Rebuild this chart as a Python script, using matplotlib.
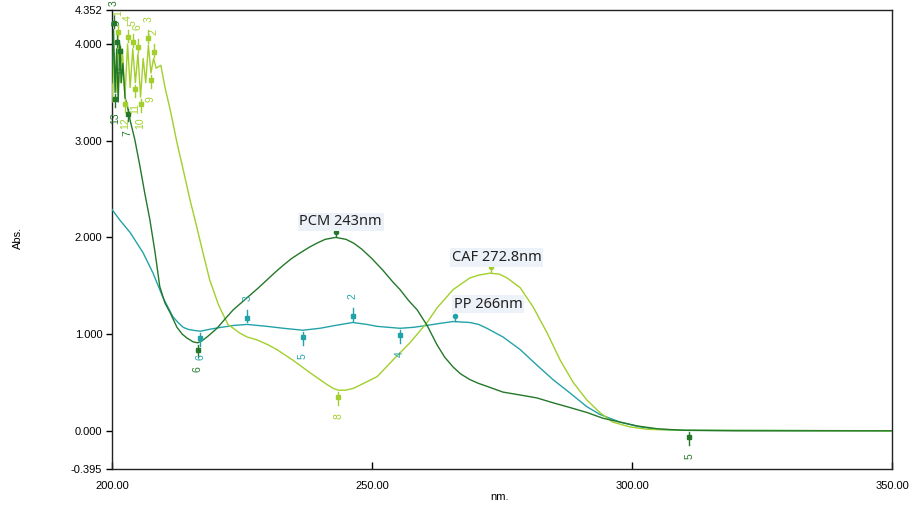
import numpy as np
import matplotlib
matplotlib.use('Agg')
import matplotlib.pyplot as plt

# PCM (dark green)
pcm_nm = [200.0, 200.3, 200.6, 200.9, 201.2, 201.5, 201.8, 202.1, 202.5, 203.0, 203.5, 204.4,
          205.4, 206.3, 207.3, 208.3, 209.2, 210.2, 211.2, 212.5, 213.5, 214.4, 215.6, 216.5,
          217.3, 218.5, 220.2, 221.8, 223.3, 225.0, 226.5, 228.2, 229.8, 231.4, 232.9, 234.5,
          236.2, 238.0, 239.4, 241.0, 243.0, 245.0, 246.5, 248.0, 250.0, 252.1, 254.0, 255.4,
          257.0, 258.7, 260.6, 262.5, 264.0, 265.6, 267.0, 268.8, 270.5, 272.1, 275.2, 278.5,
          281.7, 284.8, 288.1, 291.3, 294.4, 297.7, 301.0, 305.0, 310.0, 320.0, 350.0]
pcm_abs = [3.60, 4.15, 3.50, 3.95, 3.40, 4.00, 3.60, 3.80, 3.45, 3.35, 3.21, 3.01,
           2.73, 2.46, 2.18, 1.84, 1.49, 1.32, 1.22, 1.07, 1.00, 0.96, 0.92, 0.91,
           0.93, 0.98, 1.06, 1.16, 1.25, 1.33, 1.40, 1.48, 1.56, 1.64, 1.71, 1.78,
           1.84, 1.90, 1.94, 1.98, 2.00, 1.98, 1.94, 1.88, 1.78, 1.66, 1.54, 1.46,
           1.35, 1.25, 1.09, 0.89, 0.76, 0.66, 0.59, 0.53, 0.49, 0.46, 0.40, 0.37,
           0.34, 0.29, 0.24, 0.19, 0.13, 0.09, 0.05, 0.02, 0.005, 0.0, 0.0]

# PP (teal)
pp_nm = [200.0, 201.5, 203.5, 206.0, 207.9, 209.8, 211.7, 212.7, 213.7, 214.6, 215.5, 217.0,
         218.8, 221.0, 223.5, 226.0, 229.8, 233.0, 236.7, 240.0, 243.0, 246.3, 249.0, 251.0,
         255.4, 258.0, 260.6, 263.0, 265.6, 268.8, 270.5, 272.1, 275.2, 278.5, 281.7, 284.8,
         288.1, 291.3, 293.8, 297.7, 301.5, 305.0, 310.0, 350.0]
pp_abs = [2.29, 2.18, 2.05, 1.84, 1.63, 1.38, 1.18, 1.12, 1.07, 1.05, 1.04, 1.03,
          1.05, 1.07, 1.09, 1.10, 1.08, 1.06, 1.04, 1.06, 1.09, 1.12, 1.10, 1.08,
          1.06, 1.07, 1.09, 1.11, 1.13, 1.12, 1.10, 1.06, 0.97, 0.84, 0.68, 0.53,
          0.39, 0.25, 0.17, 0.09, 0.04, 0.015, 0.005, 0.0]

# CAF (yellow green)
caf_nm = [200.0, 200.4, 200.8, 201.2, 201.6, 202.0, 202.5, 203.0, 203.5, 204.0, 204.5, 205.0,
          205.5, 206.0, 206.5, 207.0, 207.5, 208.0, 208.5, 209.4, 210.2, 211.2, 212.5, 213.7,
          215.0, 216.3, 217.5, 218.8, 220.5, 222.3, 224.6, 226.0, 227.9, 230.0, 231.7, 234.8,
          238.1, 241.3, 242.5, 243.5, 245.0, 246.5, 248.0, 249.5, 251.0, 254.0, 257.3, 260.6,
          262.5, 265.6, 268.8, 270.5, 272.7, 274.5, 276.0, 278.5, 281.0, 283.7, 286.2, 288.7,
          291.3, 293.8, 296.3, 299.6, 303.0, 310.0, 350.0]
caf_abs = [3.40, 3.90, 3.50, 4.05, 3.60, 3.95, 3.45, 4.00, 3.55, 3.95, 3.60, 3.90,
           3.45, 3.85, 3.60, 3.99, 3.70, 3.85, 3.75, 3.78, 3.55, 3.32, 2.98, 2.70,
           2.39, 2.11, 1.84, 1.56, 1.30, 1.10, 1.01, 0.97, 0.94, 0.89, 0.84, 0.73,
           0.60, 0.48, 0.44, 0.42, 0.42, 0.44, 0.48, 0.52, 0.56, 0.73, 0.91, 1.12,
           1.27, 1.46, 1.58, 1.61, 1.63, 1.62, 1.58, 1.48, 1.28, 1.01, 0.73, 0.50,
           0.32, 0.19, 0.09, 0.04, 0.015, 0.005, 0.0]

# numbered peak/valley picks: (wavelength, label, +1 peak / -1 valley)
pcm_picks = [(200.3, '3', 1), (200.9, '5', 1), (200.6, '13', -1), (201.5, '8', -1),
             (203.0, '7', -1), (216.5, '6', -1), (311.0, '5', -1)]
pp_picks = [(217.0, '6', -1), (226.0, '3', 1), (236.7, '5', -1), (246.3, '2', 1),
            (255.4, '4', -1)]
caf_picks = [(201.2, '1', 1), (203.0, '4', 1), (204.0, '5', 1), (205.0, '6', 1),
             (207.0, '3', 1), (208.0, '2', 1), (202.5, '12', -1), (204.5, '11', -1),
             (205.5, '10', -1), (207.5, '9', -1), (243.5, '8', -1)]

# named peaks: (wavelength, text)
pcm_peak = (243.0, 'PCM 243nm')
caf_peak = (272.8, 'CAF 272.8nm')
pp_peak = (266.0, 'PP 266nm')

c_pcm = '#23782a'
c_pp = '#22a3a8'
c_caf = '#a2cf2c'

fig = plt.figure(figsize=(9.14, 5.07), dpi=100)
ax = fig.add_axes([0.1225, 0.075, 0.8534, 0.9053])

ax.plot(pp_nm, pp_abs, color=c_pp, lw=1.0, zorder=3)
ax.plot(caf_nm, caf_abs, color=c_caf, lw=1.0, zorder=3)
ax.plot(pcm_nm, pcm_abs, color=c_pcm, lw=1.0, zorder=4)


def draw_picks(nm, ab, picks, color):
    for x, lab, d in picks:
        y = np.interp(x, nm, ab)
        ax.plot([x, x], [y + d * 0.02, y + d * 0.15], color=color, lw=1.0, zorder=5)
        ax.plot([x], [y + d * 0.07], marker='s', ms=3, color=color, zorder=5)
        ax.text(x, y + d * 0.27, lab, color=color, fontsize=7.5, rotation=90,
                ha='center', va='center', family='Liberation Sans', zorder=5)


def draw_peak(nm, ab, peak, color, text_x, text_y):
    x, lab = peak
    y = np.interp(x, nm, ab)
    ax.plot([x, x], [y + 0.01, y + 0.06], color=color, lw=1.0, zorder=5)
    ax.plot([x], [y + 0.06], marker='o', ms=3, color=color, zorder=5)
    ax.text(text_x, text_y, lab, fontsize=10.5, color='#222222', family='Noto Sans',
            ha='center', va='center', zorder=6,
            bbox=dict(boxstyle='square,pad=0.12', fc='#edf1f8', ec='none'))


draw_picks(pcm_nm, pcm_abs, pcm_picks, c_pcm)
draw_picks(pp_nm, pp_abs, pp_picks, c_pp)
draw_picks(caf_nm, caf_abs, caf_picks, c_caf)
draw_peak(pcm_nm, pcm_abs, pcm_peak, c_pcm, 244.0, 2.16)
draw_peak(caf_nm, caf_abs, caf_peak, c_caf, 274.0, 1.79)
draw_peak(pp_nm, pp_abs, pp_peak, c_pp, 272.3, 1.31)

ax.set_xlim(200, 350)
ax.set_ylim(-0.395, 4.352)
ax.set_xticks([200, 250, 300, 350])
ax.set_xticklabels(['200.00', '250.00', '300.00', '350.00'])
ax.set_yticks([-0.395, 0.0, 1.0, 2.0, 3.0, 4.0, 4.352])
ax.set_yticklabels(['-0.395', '0.000', '1.000', '2.000', '3.000', '4.000', '4.352'])
ax.tick_params(width=1.0, labelsize=8)
ax.tick_params(axis='x', direction='in', length=5, pad=9)
ax.tick_params(axis='y', direction='out', length=4, pad=3)
for lbl in ax.get_xticklabels() + ax.get_yticklabels():
    lbl.set_family('Liberation Sans')
for s in ax.spines.values():
    s.set_linewidth(1.0)
    s.set_color('#222222')

fig.text(0.02, 0.53, 'Abs.', rotation=90, ha='center', va='center', fontsize=8,
         family='Liberation Sans')
fig.text(0.547, 0.02, 'nm.', ha='center', va='center', fontsize=8, family='Liberation Sans')

fig.savefig('out.png', dpi=100)
